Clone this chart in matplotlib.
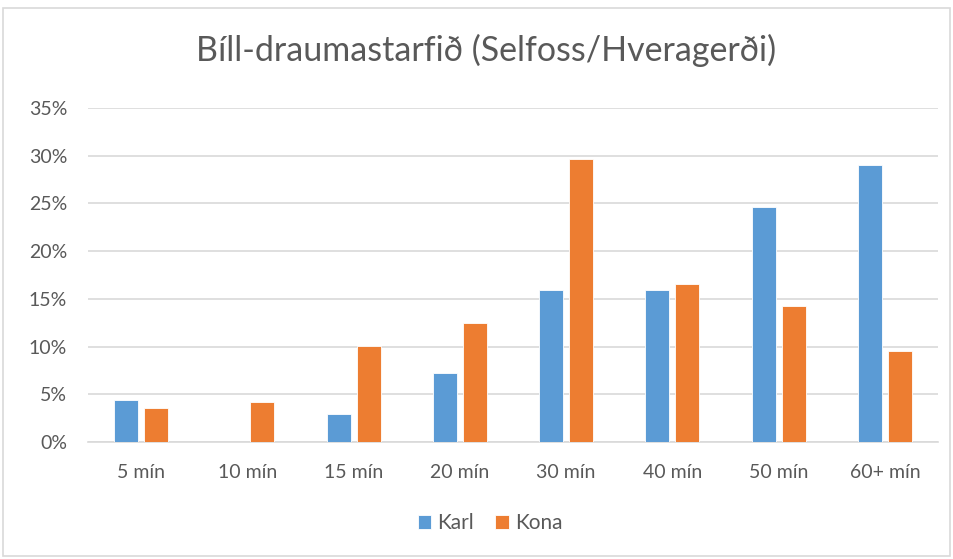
import matplotlib
matplotlib.use("Agg")
import matplotlib.pyplot as plt
import numpy as np
from matplotlib.patches import Rectangle

categories = ["5 mín", "10 mín", "15 mín", "20 mín", "30 mín", "40 mín", "50 mín", "60+ mín"]
karl = [4.37, 0.0, 2.90, 7.24, 15.94, 15.93, 24.62, 29.03]
kona = [3.57, 4.16, 10.03, 12.45, 29.62, 16.56, 14.22, 9.50]
yticks = [0, 5, 10, 15, 20, 25, 30, 35]
title = "Bíll-draumastarfið (Selfoss/Hveragerði)"

plt.rcParams['font.family'] = ['Lato', 'DejaVu Sans']

fig = plt.figure(figsize=(9.54, 5.59), dpi=100)
ax = fig.add_axes([88/954, 1-442/559, 850/954, 334/559])

x = np.arange(len(categories))
w = 0.226
off = 0.141
c_karl = "#5B9BD5"
c_kona = "#ED7D31"
ax.bar(x - off, karl, w, color=c_karl, edgecolor="white", linewidth=0.6, label="Karl", zorder=3)
ax.bar(x + off, kona, w, color=c_kona, edgecolor="white", linewidth=0.6, label="Kona", zorder=3)

ax.set_xlim(-0.5, len(categories) - 0.5)
ax.set_ylim(0, 35)
ax.set_yticks(yticks)
ax.set_yticklabels([f"{t}%" for t in yticks])
ax.set_xticks(x)
ax.set_xticklabels(categories)
ax.yaxis.grid(True, color="#D9D9D9", linewidth=1.2, zorder=0)
ax.set_axisbelow(True)
for s in ["top", "right", "left"]:
    ax.spines[s].set_visible(False)
ax.spines["bottom"].set_color("#D9D9D9")
ax.spines["bottom"].set_linewidth(1.2)
ax.tick_params(axis="both", length=0, labelsize=14, colors="#595959")
ax.tick_params(axis="x", pad=16)
ax.tick_params(axis="y", pad=15)

fig.text(486/954, 1-50/559, title, ha="center", va="center", fontsize=24.5, color="#595959")

leg = ax.legend(loc="center", bbox_to_anchor=(490/954, 1-523/559), bbox_transform=fig.transFigure,
                ncol=2, frameon=False, fontsize=15, handlelength=0.65, handleheight=0.65,
                handletextpad=0.3, columnspacing=1.0)
for t in leg.get_texts():
    t.set_color("#595959")

fig.patches.append(Rectangle((3/954, 3/559), 947/954, 548/559, transform=fig.transFigure,
                             fill=False, edgecolor="#D9D9D9", linewidth=1.2))

fig.savefig("out.png", dpi=100)
